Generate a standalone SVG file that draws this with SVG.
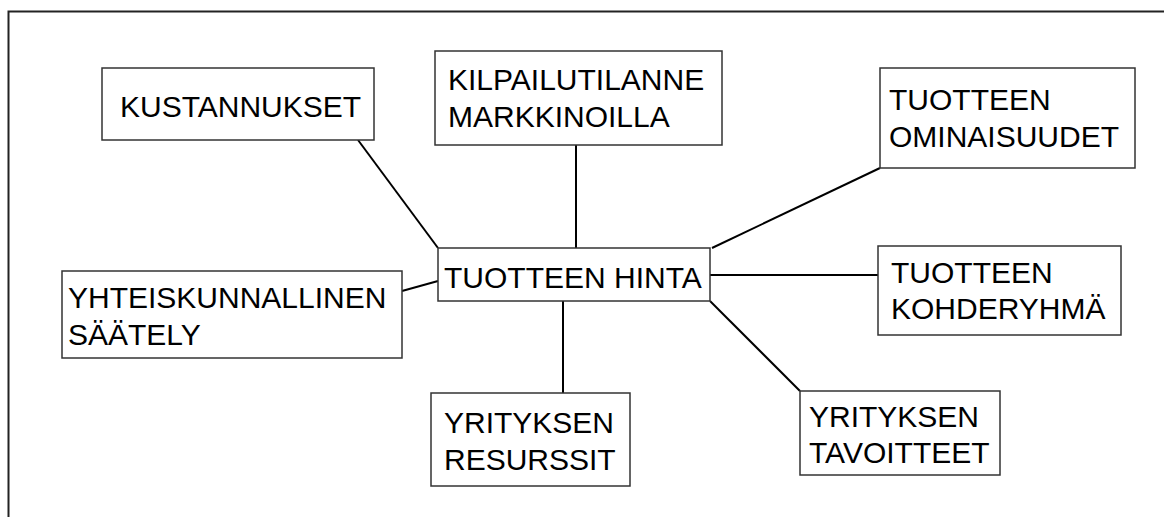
<svg xmlns="http://www.w3.org/2000/svg" width="1164" height="517" viewBox="0 0 1164 517">
<style>
.box{fill:#fff;stroke:#333;stroke-width:1.5}
.t{font-family:"Liberation Sans",Arial,sans-serif;font-size:30px;fill:#000}
.c{stroke:#000;stroke-width:2;fill:none}
</style>
<rect width="1164" height="517" fill="#fff"/>
<path d="M8.5,517 V11.5 H1164" fill="none" stroke="#222" stroke-width="2"/>
<g id="connectors">
<line class="c" x1="358" y1="140" x2="438" y2="248"/>
<line class="c" x1="576" y1="145" x2="576" y2="248"/>
<line class="c" x1="880" y1="168" x2="712" y2="248"/>
<line class="c" x1="402" y1="291" x2="438" y2="281"/>
<line class="c" x1="710" y1="275" x2="878" y2="275"/>
<line class="c" x1="563" y1="301" x2="563" y2="393"/>
<line class="c" x1="710" y1="301" x2="800" y2="391"/>
</g>
<g id="kustannukset">
<rect class="box" x="102" y="68" width="272" height="72"/>
<text class="t" x="120" y="117">KUSTANNUKSET</text>
</g>
<g id="kilpailutilanne">
<rect class="box" x="435" y="51" width="287" height="94"/>
<text class="t" x="448" y="90">KILPAILUTILANNE</text>
<text class="t" x="448" y="127">MARKKINOILLA</text>
</g>
<g id="ominaisuudet">
<rect class="box" x="880" y="68" width="255" height="100"/>
<text class="t" x="889" y="110">TUOTTEEN</text>
<text class="t" x="889" y="147">OMINAISUUDET</text>
</g>
<g id="hinta">
<rect class="box" x="438" y="248" width="272" height="53"/>
<text class="t" x="444" y="288">TUOTTEEN HINTA</text>
</g>
<g id="saately">
<rect class="box" x="62" y="271" width="340" height="87"/>
<text class="t" x="68" y="308">YHTEISKUNNALLINEN</text>
<text class="t" x="68" y="345">SÄÄTELY</text>
</g>
<g id="kohderyhma">
<rect class="box" x="878" y="246" width="243" height="89"/>
<text class="t" x="891" y="283">TUOTTEEN</text>
<text class="t" x="891" y="319">KOHDERYHMÄ</text>
</g>
<g id="resurssit">
<rect class="box" x="431" y="393" width="199" height="93"/>
<text class="t" x="444" y="433">YRITYKSEN</text>
<text class="t" x="444" y="470">RESURSSIT</text>
</g>
<g id="tavoitteet">
<rect class="box" x="800" y="391" width="200" height="84"/>
<text class="t" x="809" y="427">YRITYKSEN</text>
<text class="t" x="809" y="463">TAVOITTEET</text>
</g>
</svg>
